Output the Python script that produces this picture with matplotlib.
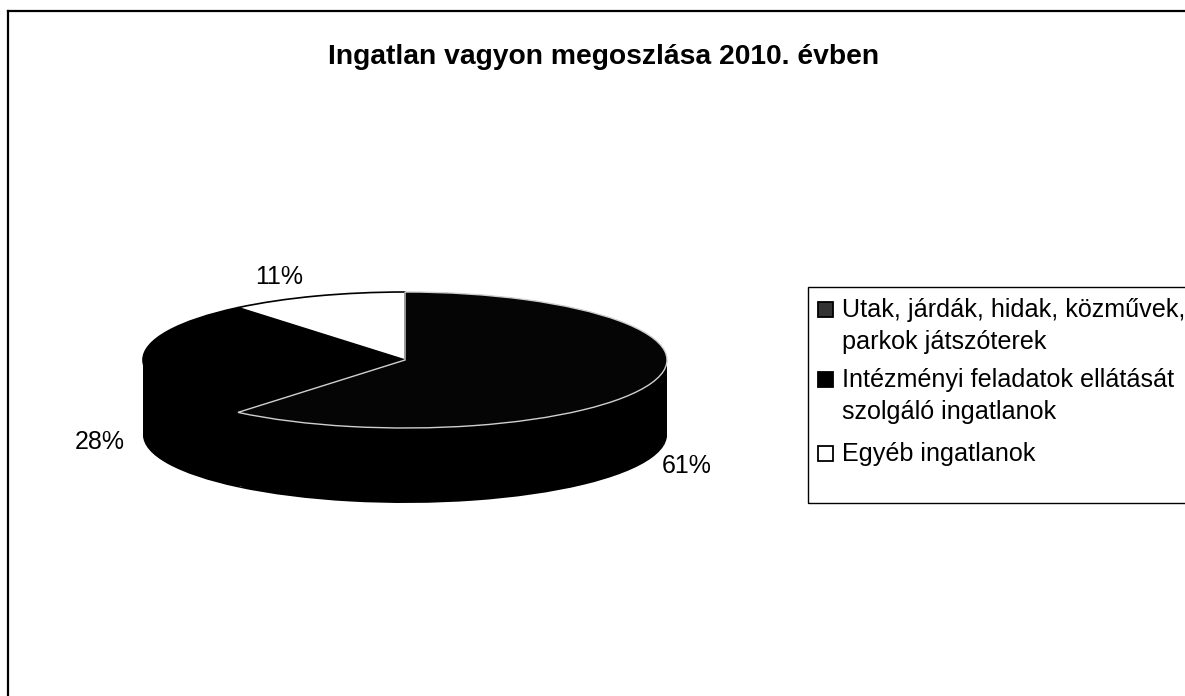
import numpy as np
import matplotlib
matplotlib.use('Agg')
import matplotlib.pyplot as plt
from matplotlib.patches import Rectangle
from matplotlib.lines import Line2D

# data
categories = ['Utak, járdák, hidak, közművek,\nparkok játszóterek',
              'Intézményi feladatok ellátását\nszolgáló ingatlanok',
              'Egyéb ingatlanok']
shares = [61, 28, 11]
share_labels = ['61%', '28%', '11%']
title = 'Ingatlan vagyon megoszlása 2010. évben'

W, H = 1185, 696
plt.rcParams['font.family'] = ['Liberation Sans', 'DejaVu Sans']

fig = plt.figure(figsize=(W/100, H/100), dpi=100, facecolor='white')

# pie is squashed by the axes box: rx=262px, ry=68px, centre at 405,360
rx, ry = 262, 68
cx, cy = 405, 360
yspan = 3.0
ax = fig.add_axes([(cx-1.25*rx)/W, 1-(cy+yspan*ry)/H, 2.5*rx/W, 2*yspan*ry/H])

# side of the pie, stacked layers
depth = 75/ry
for d in np.linspace(depth, 0, 40):
	ax.pie(shares, startangle=90, counterclock=False, center=(0, -d),
		colors=['black']*3, wedgeprops={'linewidth': 0})

wedges, _ = ax.pie(shares, startangle=90, counterclock=False,
	colors=['#050505', '#000000', 'white'],
	wedgeprops={'linewidth': 1.2, 'edgecolor': 'black'})
wedges[0].set_edgecolor('#d0d0d0')
wedges[0].set_linewidth(1.0)
wedges[0].set_zorder(3)
ax.set_aspect('auto')
ax.set_xlim(-1.25, 1.25)
ax.set_ylim(-yspan, yspan)
ax.axis('off')

# percent labels, placed in figure pixels
label_pos = [(687, 466), (100, 442), (279, 277)]
for s, (x, y) in zip(share_labels, label_pos):
	fig.text(x/W, 1-y/H, s, ha='center', va='center', fontsize=18, color='black')

fig.text(604/W, 1-57/H, title, ha='center', va='center', fontsize=20.3, fontweight='bold')

# page frame: top and left only reach the edges of the scan
fig.add_artist(Line2D([8/W, 1], [1-11/H, 1-11/H], color='black', lw=1.6))
fig.add_artist(Line2D([8/W, 8/W], [1-11/H, 0], color='black', lw=1.6))

# legend box runs off the right edge, swatch sits on the first line of each entry
fig.add_artist(Rectangle((808/W, 1-503/H), 400/W, 216/H, facecolor='none',
	edgecolor='black', lw=1.0, transform=fig.transFigure))
swatch_colors = ['#333333', 'black', 'white']
legend_y = [298, 368, 442]
for name, c, y in zip(categories, swatch_colors, legend_y):
	fig.add_artist(Rectangle((818/W, 1-(y+19)/H), 15/W, 15/H, facecolor=c, edgecolor='black',
		lw=1.3, transform=fig.transFigure))
	fig.text(842/W, 1-y/H, name, ha='left', va='top', fontsize=18.1, linespacing=1.42, color='black')

fig.savefig('out.png', dpi=100)
